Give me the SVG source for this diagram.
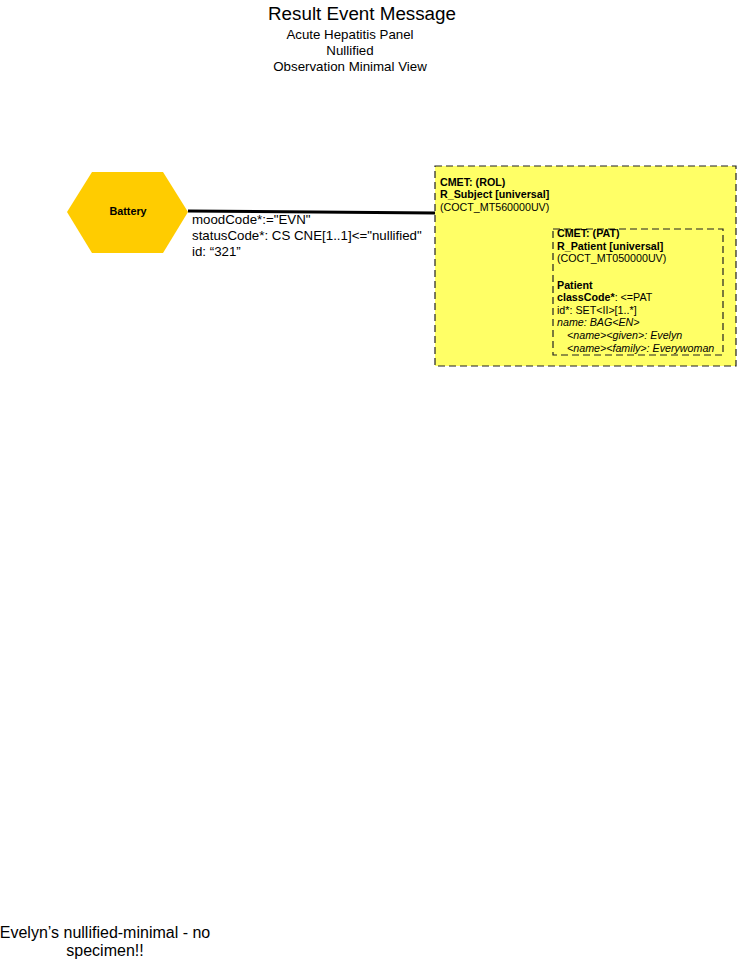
<svg xmlns="http://www.w3.org/2000/svg" width="737" height="962" viewBox="0 0 737 962">
<style>
text{font-family:"Liberation Sans",Arial,sans-serif;fill:#000}
.t{font-size:10.7px}
.b{font-weight:bold}
.i{font-style:italic}
.box{fill:#FFFF66;stroke:#222;stroke-width:1.2;stroke-dasharray:7,4}
.box2{fill:none;stroke:#222;stroke-width:1.2;stroke-dasharray:7,4}
.rel{font-size:13.3px}
</style>
<rect width="737" height="962" fill="#fff"/>
<g id="title">
<text x="362" y="20" font-size="18.8" text-anchor="middle">Result Event Message</text>
<text x="350" y="39" font-size="13.3" text-anchor="middle">Acute Hepatitis Panel</text>
<text x="350" y="55" font-size="13.3" text-anchor="middle">Nullified</text>
<text x="350" y="71" font-size="13.3" text-anchor="middle">Observation Minimal View</text>
</g>
<g id="connectors">
<path d="M188,211 L435,213" stroke="#000" stroke-width="3" fill="none"/>
<text class="rel" x="192" y="224">moodCode*:="EVN"</text>
<text class="rel" x="192" y="240">statusCode*: CS CNE[1..1]&lt;="nullified"</text>
<text class="rel" x="192" y="256">id: “321”</text>
</g>
<g id="battery">
<polygon points="67,212 92,172 163,172 188,212 163,253 92,253" fill="#FFCC00"/>
<text x="128" y="215" font-size="10.8" class="b" text-anchor="middle">Battery</text>
</g>
<g id="subject">
<rect class="box" x="435" y="166" width="301" height="200"/>
<text class="t b" x="440" y="186">CMET: (ROL)</text>
<text class="t b" x="440" y="198">R_Subject [universal]</text>
<text class="t" x="440" y="211">(COCT_MT560000UV)</text>
</g>
<g id="patient">
<rect class="box2" x="553" y="229" width="170" height="126"/>
<text class="t b" x="557" y="237">CMET: (PAT)</text>
<text class="t b" x="557" y="250">R_Patient [universal]</text>
<text class="t" x="557" y="262">(COCT_MT050000UV)</text>
<text class="t b" x="557" y="289">Patient</text>
<text class="t" x="557" y="301"><tspan class="b">classCode*</tspan>: &lt;=PAT</text>
<text class="t" x="557" y="314">id*: SET&lt;II&gt;[1..*]</text>
<text class="t i" x="557" y="326">name: BAG&lt;EN&gt;</text>
<text class="t i" x="567" y="339">&lt;name&gt;&lt;given&gt;: Evelyn</text>
<text class="t i" x="567" y="352">&lt;name&gt;&lt;family&gt;: Everywoman</text>
</g>
<g id="footer">
<text x="105" y="938" font-size="16" text-anchor="middle">Evelyn’s nullified-minimal - no</text>
<text x="105" y="956" font-size="16" text-anchor="middle">specimen!!</text>
</g>
</svg>
